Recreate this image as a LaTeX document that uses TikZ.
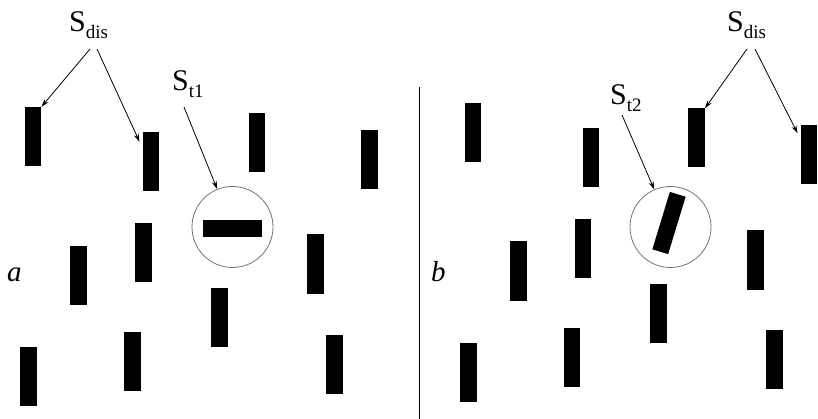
\documentclass[tikz,border=0pt]{standalone}
\usepackage{fontspec}
\setmainfont{Liberation Serif}
\usetikzlibrary{arrows.meta}
\tikzset{
  bar/.style={fill=black, draw=none, inner sep=0pt, minimum width=16.5pt, minimum height=59pt},
  ring/.style={circle, draw=black!55, line width=0.8pt, inner sep=0pt, minimum size=81pt},
  pointer/.style={draw=black, line width=0.8pt, -{Stealth[length=8pt,width=5pt]}},
  lbl/.style={inner sep=0pt, anchor=base west},
  panel/.style={inner sep=0pt, anchor=base west, font=\fontsize{29}{31}\selectfont\itshape}
}
\newcommand{\bigS}[1]{{\fontsize{30}{32}\selectfont S\raisebox{-7pt}{\fontsize{19}{20}\selectfont #1}}}
\begin{document}
\begin{tikzpicture}[x=1pt, y=-1pt]
\useasboundingbox (0,0) rectangle (818,419);

% left panel
\node[bar] (l1) at (33,136.5) {};
\node[bar] (l2) at (151,161.5) {};
\node[bar] (l3) at (257,142.5) {};
\node[bar] (l4) at (369.5,159.5) {};
\node[bar] (l5) at (78.5,275.5) {};
\node[bar] (l6) at (143.5,252.5) {};
\node[bar] (l7) at (315.5,264) {};
\node[bar] (l8) at (219.5,317.5) {};
\node[bar] (l9) at (28.5,376) {};
\node[bar] (l10) at (132.5,361.5) {};
\node[bar] (l11) at (334.5,364) {};
\node[ring] (c1) at (232.5,227) {};
\node[bar, minimum width=59pt, minimum height=17pt] (h1) at (232.5,228.5) {};

\node[lbl] (sdisA) at (69,32) {\bigS{dis}};
\node[lbl] (st1) at (172,91) {\bigS{t1}};
\node[panel] (la) at (7,282) {a};

\coordinate (a1) at (90,49);
\coordinate (a2) at (97,49);
\coordinate (a3) at (184,107);
\draw[pointer] (a1) -- (l1.north east);
\draw[pointer] (a2) -- ([xshift=-3pt,yshift=-10pt]l2.north west);
\draw[pointer] (a3) -- (c1);

% divider
\coordinate (d1) at (419,87);
\coordinate (d2) at (419,419);
\draw[line width=0.8pt] (d1) -- (d2);

% right panel
\node[bar] (r1) at (473,132.5) {};
\node[bar] (r2) at (591,157.5) {};
\node[bar] (r3) at (696.5,138) {};
\node[bar] (r4) at (809,155) {};
\node[bar] (r5) at (518.5,271) {};
\node[bar] (r6) at (583,249) {};
\node[bar] (r7) at (755.5,260) {};
\node[bar] (r8) at (658.5,313.5) {};
\node[bar] (r9) at (468.5,372.5) {};
\node[bar] (r10) at (572,357.5) {};
\node[bar] (r11) at (774.5,359.5) {};
\node[ring] (c2) at (670.5,227) {};
\node[bar, minimum height=60pt, rotate=-17] (t2) at (669,223) {};

\node[lbl] (sdisB) at (727,32) {\bigS{dis}};
\node[lbl] (st2) at (610,105) {\bigS{t2}};
\node[panel] (lb) at (431,282) {b};

\coordinate (b1) at (747,49);
\coordinate (b2) at (755,49);
\coordinate (b3) at (622,115);
\draw[pointer] (b1) -- (r3.north east);
\draw[pointer] (b2) -- ([xshift=-3pt,yshift=-8pt]r4.north west);
\draw[pointer] (b3) -- (c2);
\end{tikzpicture}
\end{document}
